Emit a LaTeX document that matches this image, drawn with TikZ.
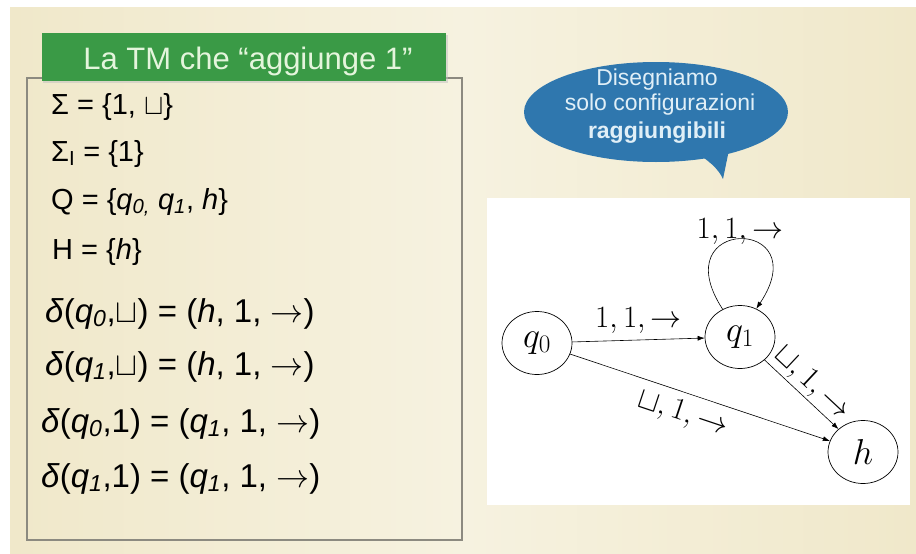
\RequirePackage{fix-cm}
\documentclass[tikz,border=0pt]{standalone}
\usepackage{fontspec}
\setmainfont{Liberation Sans}
\usetikzlibrary{shapes.geometric,arrows.meta}
\definecolor{cream}{HTML}{F6F2E0}
\definecolor{creamedge}{HTML}{F0E8CA}
\definecolor{titlegreen}{HTML}{3A9A46}
\definecolor{titletext}{HTML}{E4F5DC}
\definecolor{boxline}{HTML}{8C8A80}
\definecolor{bubbleblue}{HTML}{2F77AE}
\definecolor{bubbletext}{HTML}{E0EFF7}
\tikzset{
  lt/.style={anchor=base west, inner sep=0pt, font=\fontsize{29}{35}\selectfont},
  dl/.style={anchor=base west, inner sep=0pt, font=\fontsize{33}{40}\selectfont},
  bt/.style={anchor=base, inner sep=0pt, text=bubbletext, font=\fontsize{23}{27}\selectfont},
  state/.style={ellipse, draw, line width=0.7pt, minimum width=70pt, minimum height=63pt, inner sep=0pt, font=\fontsize{36}{42}\selectfont},
  arr/.style={line width=0.6pt, -{Latex[length=7pt,width=5pt]}},
  el/.style={font=\fontsize{31}{37}\selectfont, inner sep=2pt}
}
\newcommand\sq{$\sqcup$}
\newcommand\ra{$\rightarrow$}
\begin{document}
\begin{tikzpicture}[x=1pt,y=-1pt]
\useasboundingbox (0,0) rectangle (916,554);
\fill[white] (0,0) rectangle (916,554);
\shade[left color=creamedge, right color=creamedge, middle color=cream] (10,7) rectangle (916,554);
% left box
\draw[boxline, line width=1.1pt] (27,78) rectangle (462,540);
\fill[black!25, opacity=0.5] (43,35) rectangle (448,83);
\fill[titlegreen] (42,33) rectangle (446,81);
\node[anchor=base, inner sep=0pt, text=titletext, font=\fontsize{31}{37}\selectfont] (title) at (248,69) {La TM che “aggiunge 1”};
\node[lt] (s1) at (51,114) {Σ = \{1, \sq\}};
\node[lt] (s2) at (51,161) {Σ\textsubscript{I} = \{1\}};
\node[lt] (s3) at (51,209) {Q = \{\textit{q}\textsubscript{\itshape 0,} \textit{q}\textsubscript{\itshape 1}, \textit{h}\}};
\node[lt] (s4) at (52,259) {H = \{\textit{h}\}};
\node[dl] (d1) at (45,322) {\textit{δ}(\textit{q}\textsubscript{\itshape 0},\sq) = (\textit{h}, 1, \ra)};
\node[dl] (d2) at (45,375) {\textit{δ}(\textit{q}\textsubscript{\itshape 1},\sq) = (\textit{h}, 1, \ra)};
\node[dl] (d3) at (41,432) {\textit{δ}(\textit{q}\textsubscript{\itshape 0},1) = (\textit{q}\textsubscript{\itshape 1}, 1, \ra)};
\node[dl] (d4) at (41,487) {\textit{δ}(\textit{q}\textsubscript{\itshape 1},1) = (\textit{q}\textsubscript{\itshape 1}, 1, \ra)};
% bubble
\fill[bubbleblue] (656,112) ellipse [x radius=132, y radius=50];
\fill[bubbleblue] (692,150) .. controls (708,160) and (718,168) .. (723,179) -- (731,140) -- cycle;
\node[bt] (b1) at (657,85) {Disegniamo};
\node[bt] (b2) at (660,110) {solo configurazioni};
\node[bt, font=\fontsize{23}{27}\selectfont\bfseries] (b3) at (657,138) {raggiungibili};
% graph panel
\fill[white] (487,198) rectangle (910,505);
\node[state] (q0) at (537,343) {$q_0$};
\node[state] (q1) at (740,337) {$q_1$};
\node[state] (h) at (863,452) {$h$};
\draw[arr] (q1.122) .. controls (662,216) and (818,216) .. node[el, pos=0.5, above=-8pt] {$1,1,\rightarrow$} (q1.60);
\draw[arr] (q0) -- node[el, above=4pt] {$1,1,\rightarrow$} (q1);
\draw[arr] (q0) -- node[el, sloped, below=6pt, pos=0.46] {$\sqcup,1,\rightarrow$} (h);
\draw[arr] (q1) -- node[el, sloped, above=0pt, pos=0.5] {$\sqcup,1,\rightarrow$} (h);
\end{tikzpicture}
\end{document}
